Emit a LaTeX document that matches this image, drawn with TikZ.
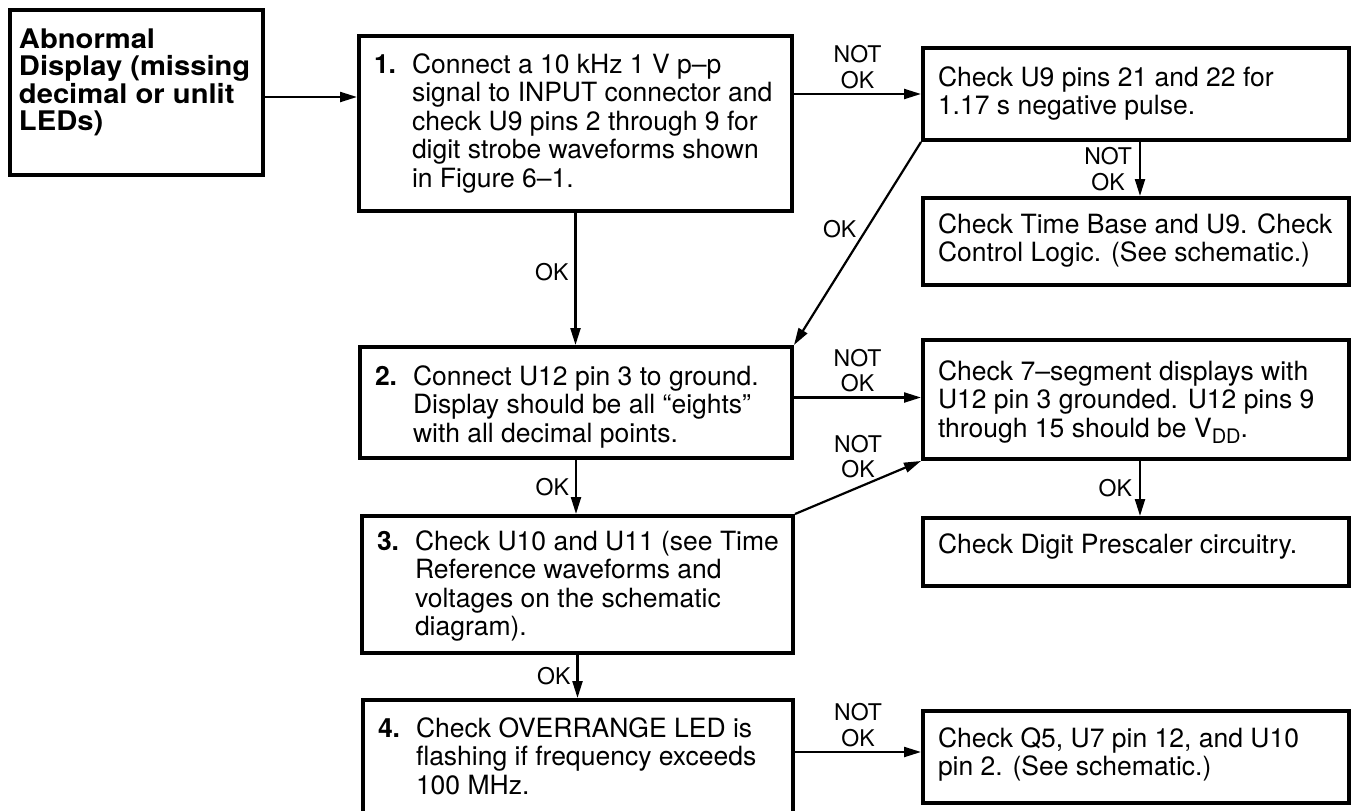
\documentclass[tikz,border=0pt]{standalone}
\usepackage{fontspec}
\setmainfont{TeX Gyre Heros}
\newfontfamily\abnfont{TeX Gyre Heros}[FakeStretch=1.08]
\usetikzlibrary{arrows.meta}
\newcommand{\bxt}[5]{\makebox[#1][l]{\hspace*{#3}\parbox[c][#2][t]{\dimexpr#1-#3\relax}{\raggedright\rule{0pt}{#4}#5}}}
\newcommand{\hangnum}[2]{\mbox{\makebox[38pt][l]{\bfseries #1}#2}}
\newcommand{\contline}[1]{\mbox{\hspace*{38pt}#1}}
\begin{document}
\begin{tikzpicture}[x=1pt,y=-1pt,
  box/.style={draw,line width=4pt,rectangle,inner sep=0pt,font=\fontsize{26.5}{28.5}\selectfont},
  arr/.style={line width=2.2pt,-{Triangle[length=17pt,width=10pt]}},
  lbl/.style={font=\fontsize{23}{25.5}\selectfont,align=center,inner sep=0pt}]
\useasboundingbox (0,0) rectangle (1353,811);
\fill[white] (0,0) rectangle (1353,811);

\node[box,font=\abnfont\fontsize{27}{27.5}\selectfont\bfseries] (A) at (136.5,92.5)
  {\bxt{253pt}{165pt}{9pt}{38pt}{\mbox{Abnormal}\\\mbox{Display (missing}\\\mbox{decimal or unlit}\\\mbox{LEDs)}}};

\node[box] (B1) at (575.5,123.5)
  {\bxt{433pt}{175pt}{15pt}{37pt}{\hangnum{1.}{Connect a 10 kHz 1 V p--p}\\\contline{signal to INPUT connector and}\\\contline{check U9 pins 2 through 9 for}\\\contline{digit strobe waveforms shown}\\\contline{in Figure 6--1.}}};

\node[box] (U9) at (1136,94)
  {\bxt{426pt}{92pt}{15pt}{38pt}{\mbox{Check U9 pins 21 and 22 for}\\\mbox{1.17 s negative pulse.}}};

\node[box] (TB) at (1136,241.5)
  {\bxt{426pt}{87pt}{15pt}{35pt}{\mbox{Check Time Base and U9. Check}\\\mbox{Control Logic. (See schematic.)}}};

\node[box] (B2) at (576,402.5)
  {\bxt{432pt}{111pt}{15pt}{38pt}{\hangnum{2.}{Connect U12 pin 3 to ground.}\\\contline{Display should be all “eights”}\\\contline{with all decimal points.}}};

\node[box] (S7) at (1136,399.5)
  {\bxt{426pt}{119pt}{15pt}{40pt}{\mbox{Check 7--segment displays with}\\\mbox{U12 pin 3 grounded. U12 pins 9}\\\mbox{through 15 should be V\raisebox{-6pt}{\fontsize{20}{20}\selectfont DD}.}}};

\node[box] (B3) at (577.5,584.5)
  {\bxt{431pt}{137pt}{15pt}{34pt}{\hangnum{3.}{Check U10 and U11 (see Time}\\\contline{Reference waveforms and}\\\contline{voltages on the schematic}\\\contline{diagram).}}};

\node[box] (PS) at (1136,552)
  {\bxt{426pt}{68pt}{15pt}{35pt}{\mbox{Check Digit Prescaler circuitry.}}};

\node[box] (B4) at (578,760)
  {\bxt{430pt}{120pt}{15pt}{37pt}{\hangnum{4.}{Check OVERRANGE LED is}\\\contline{flashing if frequency exceeds}\\\contline{100 MHz.}}};

\node[box] (Q5) at (1136,757)
  {\bxt{426pt}{92pt}{15pt}{36pt}{\mbox{Check Q5, U7 pin 12, and U10}\\\mbox{pin 2. (See schematic.)}}};

% connectors
\draw[arr] ([yshift=-4.5pt]A.east) -- ([yshift=-4.5pt]A.east -| B1.west);
\draw[arr] (B1.east |- U9.west) -- node[lbl,above=4pt] (l1) {NOT\\OK} (U9.west);
\draw[arr] ([xshift=4pt]U9.south) -- node[lbl,left=7pt] (l2) {NOT\\OK} ([xshift=4pt]TB.north);
\draw[arr] (U9.south west) -- node[lbl,pos=0.43,left=9pt] (l3) {OK} (B2.north east);
\draw[arr] (B1.south) -- node[lbl,pos=0.45,left=6pt] (l4) {OK} (B1.south |- B2.north);
\draw[arr] ([yshift=5pt]B2.east) -- node[lbl,above=4pt] (l5) {NOT\\OK} ([yshift=5pt]B2.east -| S7.west);
\draw[arr] (B2.south) -- node[lbl,left=6pt] (l6) {OK} (B2.south |- B3.north);
\draw[arr] (B3.north east) -- node[lbl,midway,above=8pt] (l7) {NOT\\OK} (S7.south west);
\draw[arr] ([xshift=4pt]S7.south) -- node[lbl,left=7pt] (l8) {OK} ([xshift=4pt]PS.north);
\draw[arr] (B3.south) -- node[lbl,left=6pt] (l9) {OK} (B3.south |- B4.north);
\draw[arr] ([yshift=8pt]B4.east) -- node[lbl,above=4pt] (l10) {NOT\\OK} ([yshift=8pt]B4.east -| Q5.west);
\end{tikzpicture}
\end{document}
